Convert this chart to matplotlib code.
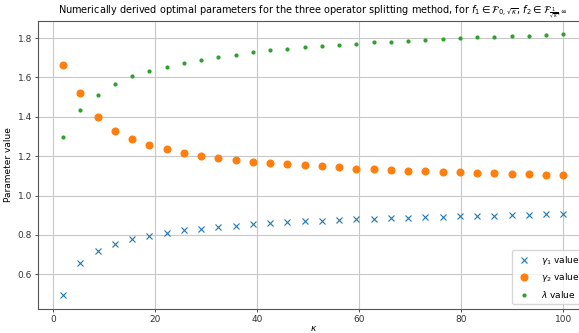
import numpy as np
import matplotlib
matplotlib.use("Agg")
import matplotlib.pyplot as plt

# kappa values (30 evenly spaced samples from 2 to 100)
kappa = [2.0, 5.38, 8.76, 12.14, 15.52, 18.9, 22.28, 25.66, 29.03, 32.41,
         35.79, 39.17, 42.55, 45.93, 49.31, 52.69, 56.07, 59.45, 62.83, 66.21,
         69.59, 72.97, 76.34, 79.72, 83.1, 86.48, 89.86, 93.24, 96.62, 100.0]

gamma1 = [0.495, 0.658, 0.718, 0.752, 0.778, 0.796, 0.812, 0.823, 0.832, 0.840,
          0.847, 0.854, 0.859, 0.864, 0.869, 0.872, 0.876, 0.879, 0.883, 0.885,
          0.888, 0.891, 0.893, 0.894, 0.896, 0.898, 0.901, 0.901, 0.904, 0.904]

gamma2 = [1.663, 1.519, 1.398, 1.327, 1.285, 1.256, 1.234, 1.217, 1.203, 1.192,
          1.182, 1.172, 1.163, 1.158, 1.153, 1.148, 1.144, 1.136, 1.133, 1.129,
          1.127, 1.122, 1.121, 1.117, 1.116, 1.112, 1.109, 1.107, 1.106, 1.104]

lam = [1.298, 1.432, 1.513, 1.565, 1.605, 1.634, 1.654, 1.675, 1.690, 1.704,
       1.715, 1.727, 1.737, 1.744, 1.752, 1.761, 1.766, 1.771, 1.778, 1.781,
       1.786, 1.791, 1.795, 1.798, 1.803, 1.806, 1.808, 1.812, 1.815, 1.818]

fig = plt.figure(figsize=(5.79, 3.33), dpi=100)
# axes runs past the right edge, as in the (cropped) reference
ax = fig.add_axes([0.066, 0.072, 0.95, 0.865])

ax.plot(kappa, gamma1, 'x', color='tab:blue', markersize=4, markeredgewidth=0.8, label=r'$\gamma_1$ value')
ax.plot(kappa, gamma2, 'o', color='tab:orange', markersize=4.8, label=r'$\gamma_2$ value')
ax.plot(kappa, lam, '.', color='tab:green', markersize=4, label=r'$\lambda$ value')

ax.set_xlim(-2.9, 104.9)
ax.set_ylim(0.4235, 1.8865)
ax.set_xticks([0, 20, 40, 60, 80, 100])
ax.set_yticks([0.6, 0.8, 1.0, 1.2, 1.4, 1.6, 1.8])
ax.tick_params(labelsize=6.5, length=2.5, width=0.6, pad=2, colors='#333333')
ax.grid(True, color='#c8c8c8', linewidth=0.8)
for s in ax.spines.values():
    s.set_color('#555555')
    s.set_linewidth(0.8)

ax.set_xlabel(r'$\kappa$', fontsize=6.5, labelpad=0)
ax.set_ylabel('Parameter value', fontsize=6.5, labelpad=3)
ax.set_title(r'Numerically derived optimal parameters for the three operator splitting method, for '
             r'$f_1 \in \mathcal{F}_{0,\sqrt{\kappa}}$, $f_2 \in \mathcal{F}_{\frac{1}{\sqrt{\kappa}},\infty}$',
             fontsize=7.0, pad=4)

ax.legend(loc='lower right', fontsize=6.5, borderaxespad=0.6, handletextpad=0.8)

plt.savefig('out.png', dpi=100)
